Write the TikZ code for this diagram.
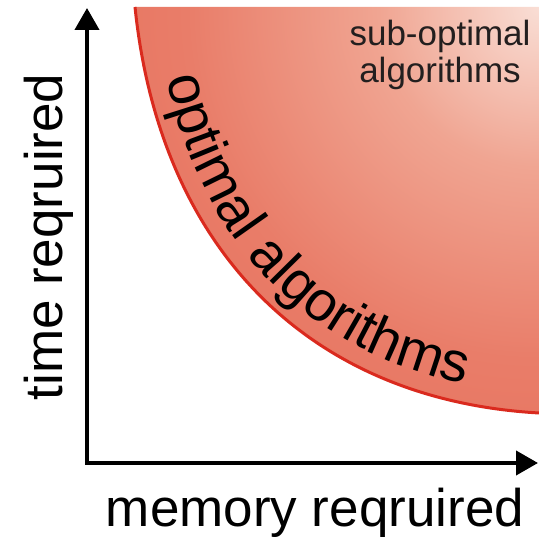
\documentclass[tikz,border=0pt]{standalone}
\usepackage{fontspec}
\setmainfont{Liberation Sans}
\usepackage{xcolor}
\usetikzlibrary{arrows.meta,decorations.text}

\definecolor{regiondark}{HTML}{E35C46}
\definecolor{regionwarm}{HTML}{E97D69}
\definecolor{regionmid}{HTML}{F0A592}
\definecolor{regionlight}{HTML}{F9DED5}
\definecolor{edgered}{HTML}{DA2A1E}
\definecolor{labelgray}{HTML}{231F1F}

\pgfdeclareradialshading{regionglow}{\pgfpoint{0bp}{0bp}}{%
  color(0bp)=(regionlight); color(5bp)=(regionmid); color(11bp)=(regionwarm);
  color(25bp)=(regiondark); color(50bp)=(regiondark)}

\begin{document}
\begin{tikzpicture}[x=1pt, y=1pt,
    axis/.style={line width=4pt, -{Triangle[width=24pt,length=22pt]}},
    axislabel/.style={font=\fontsize{53}{60}\selectfont, inner sep=0pt},
    front/.style={draw=edgered, line width=3pt}
]
    \useasboundingbox (0,0) rectangle (539,537);
    \coordinate (origin) at (87,74);
    \coordinate (timetop) at (87,529);
    \coordinate (memend) at (538,74);
    \coordinate (frontstart) at (135,530);
    \coordinate (frontend) at (539,124);
    \coordinate (corner) at (539,530);
    \coordinate (textstart) at (155,532);
    \coordinate (textend) at (540,144);

    % sub-optimal region
    \begin{scope}
        \clip (frontstart) .. controls (160,287) and (310,137) .. (frontend) -- (corner) -- cycle;
        \shade[shading=regionglow] (corner) circle (800);
    \end{scope}
    \path[front] (frontstart) .. controls (160,287) and (310,137) .. (frontend);
    \path[decorate, decoration={text along path,
        text align={left indent=74pt},
        text={|\fontsize{56}{60}\selectfont|optimal algorithms}}]
        (textstart) .. controls (178,295) and (318,155) .. (textend);

    % axes
    \draw[axis] ([yshift=-2pt]origin) -- (timetop);
    \draw[axis] ([xshift=-2pt]origin) -- (memend);

    \node[axislabel, rotate=90, anchor=base] (timelabel) at (62,300) {time reqruired};
    \node[axislabel, anchor=base] (memlabel) at (315,10) {memory reqruired};
    \node[font=\fontsize{35}{37}\selectfont, align=center, text=labelgray, inner sep=0pt] (suboptimal) at (440,482.5) {sub-optimal\\algorithms};
\end{tikzpicture}
\end{document}
